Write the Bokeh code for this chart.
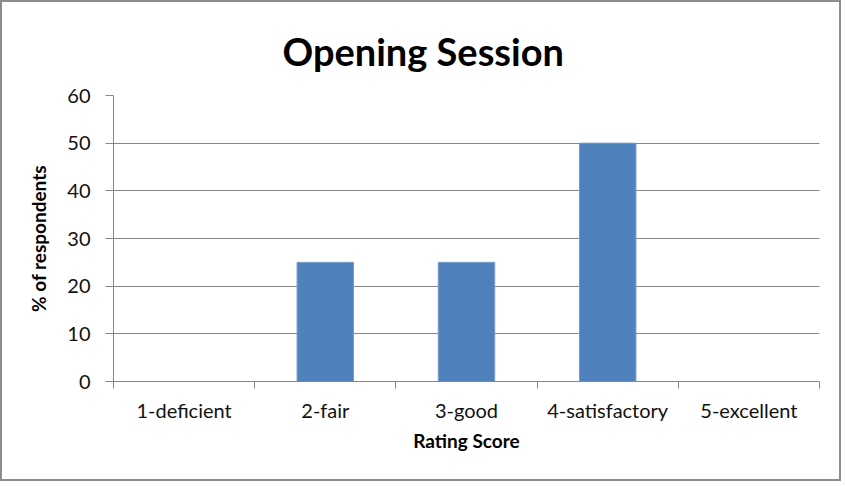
from bokeh.plotting import figure
from bokeh.models import FixedTicker, Range1d, ColumnDataSource
from bokeh.embed import file_html
from bokeh.resources import INLINE

categories = ["1-deficient", "2-fair", "3-good", "4-satisfactory", "5-excellent"]
values = [0, 25, 25, 50, 0]
y_ticks = [0, 10, 20, 30, 40, 50, 60]
title_text = "Opening Session"

FONT = "Lato"
GRAY = "#868686"

xs = [i + 0.5 for i in range(len(categories))]
src = ColumnDataSource(dict(x=xs, top=values, cat=categories))

p = figure(width=841, height=481, output_backend="svg", toolbar_location=None,
           x_range=Range1d(0, len(categories)), y_range=Range1d(0, 60),
           min_border_left=111, min_border_right=24, min_border_top=93, min_border_bottom=102)
p.styles = {"border": "2px solid #8c8c8c"}

p.vbar(x="x", top="top", width=0.4, bottom=0, source=src,
       fill_color="#4F81BD", line_color="#7A9CC8", line_width=1)

p.title.text = title_text
p.title.text_font = FONT
p.title.text_font_size = "38px"
p.title.text_font_style = "bold"
p.title.text_color = "#000000"
p.title.vertical_align = "top"
p.title.align = "left"
p.title.offset = 169
p.title.standoff = 40

p.outline_line_color = None
p.background_fill_color = "white"
p.border_fill_color = "white"

# x axis
p.xaxis.ticker = FixedTicker(ticks=xs, minor_ticks=list(range(len(categories) + 1)))
p.xaxis.major_label_overrides = {x: c for x, c in zip(xs, categories)}
p.xaxis.major_tick_line_color = None
p.xaxis.major_tick_out = 0
p.xaxis.major_tick_in = 0
p.xaxis.minor_tick_out = 7
p.xaxis.minor_tick_in = 0
p.xaxis.minor_tick_line_color = GRAY
p.xaxis.axis_line_color = GRAY
p.xaxis.major_label_standoff = 9
p.xaxis.axis_label = "Rating Score"
p.xaxis.axis_label_standoff = 4

# y axis
p.yaxis.ticker = FixedTicker(ticks=y_ticks)
p.yaxis.minor_tick_line_color = None
p.yaxis.major_tick_out = 8
p.yaxis.major_tick_in = 0
p.yaxis.major_tick_line_color = GRAY
p.yaxis.axis_line_color = GRAY
p.yaxis.major_label_standoff = 15
p.yaxis.axis_label = "% of respondents"
p.yaxis.axis_label_standoff = 14

for ax in (p.xaxis, p.yaxis):
    ax.major_label_text_font = FONT
    ax.major_label_text_font_size = "20px"
    ax.major_label_text_color = "#111111"
    ax.axis_label_text_font = FONT
    ax.axis_label_text_font_size = "19px"
    ax.axis_label_text_font_style = "bold"
    ax.axis_label_text_color = "#000000"

p.xgrid.grid_line_color = None
p.ygrid.ticker = FixedTicker(ticks=y_ticks)
p.ygrid.grid_line_color = GRAY

open("out.html", "w").write(file_html(p, INLINE))
